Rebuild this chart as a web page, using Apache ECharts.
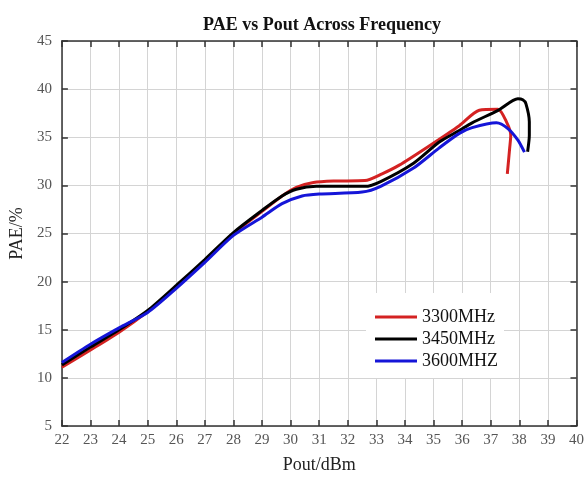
<!DOCTYPE html>
<html>
<head>
<meta charset="utf-8">
<script src="https://cdn.jsdelivr.net/npm/echarts@6/dist/echarts.min.js"></script>
<style>html,body{margin:0;padding:0;background:#fff}#c{width:587px;height:479px}</style>
</head>
<body>
<div id="c"></div>
<script>
var seriesNames = ['3300MHz', '3450MHz', '3600MHZ'];
var xTicks = [22,23,24,25,26,27,28,29,30,31,32,33,34,35,36,37,38,39,40];
var yTicks = [5,10,15,20,25,30,35,40,45];

var red3300 = [[22,11.1],[23,12.9],[24,14.75],[25,16.9],[26,19.4],[27,22.2],[28,25.0],[29,27.3],[29.7,28.9],[30.2,29.8],[30.8,30.3],[31.5,30.45],[32.6,30.5],[33.2,31.2],[33.8,32.1],[34.9,34.2],[35.9,36.2],[36.6,37.8],[37.25,37.9],[37.55,36.6],[37.7,35.2],[37.66,33.8],[37.58,31.2]];
var black3450 = [[22,11.35],[23,13.2],[24,15.0],[25,17.0],[26,19.6],[27,22.3],[28,25.1],[29,27.4],[29.7,28.9],[30.2,29.6],[30.9,29.9],[32.6,29.9],[33.15,30.4],[34.3,32.3],[35.2,34.5],[35.9,35.7],[36.35,36.5],[37.26,37.8],[37.95,39.0],[38.12,38.9],[38.23,38.5],[38.35,36.6],[38.35,35.2],[38.29,33.5]];
var blue3600 = [[22,11.6],[23,13.5],[24,15.2],[25,16.8],[26,19.3],[27,22.0],[28,24.8],[29,26.7],[29.7,28.1],[30.4,28.9],[31,29.1],[32.5,29.3],[33.15,29.9],[34.3,31.8],[35.2,33.9],[35.9,35.4],[36.35,36.0],[37.2,36.5],[37.6,35.9],[37.95,34.7],[38.18,33.45]];

var colors = ['#d42222', '#000000', '#1515d8'];
var serif = '"Liberation Serif", "Times New Roman", serif';

var chart = echarts.init(document.getElementById('c'), null, {renderer: 'canvas'});
var xMin = xTicks[0], xMax = xTicks[xTicks.length-1];
var yMin = yTicks[0], yMax = yTicks[yTicks.length-1];

function mkSeries(name, data, color) {
  return {
    name: name, type: 'line', data: data, xAxisIndex: 0, yAxisIndex: 0,
    showSymbol: false, symbol: 'none', smooth: 0.25,
    lineStyle: {color: color, width: 3}, itemStyle: {color: color}
  };
}

chart.setOption({
  animation: false,
  backgroundColor: '#ffffff',
  title: {
    text: 'PAE vs Pout Across Frequency',
    left: 317, top: 11, textAlign: 'center',
    textStyle: {fontFamily: serif, fontWeight: 'bold', fontSize: 18, color: '#111'}
  },
  grid: {left: 54, right: 7, top: 41, bottom: 48, containLabel: false},
  legend: {
    data: seriesNames.map(function(n){ return {name: n, icon: 'rect'}; }),
    orient: 'vertical', left: 366, top: 293,
    padding: [14, 6, 7, 9],
    backgroundColor: '#ffffff',
    itemWidth: 42, itemHeight: 3, itemGap: 2,
    textStyle: {fontFamily: serif, fontSize: 18, color: '#111', lineHeight: 20}
  },
  xAxis: [{
    type: 'value', min: xMin, max: xMax, interval: 1, position: 'bottom',
    name: 'Pout/dBm', nameLocation: 'middle', nameGap: 30,
    nameTextStyle: {fontFamily: serif, fontSize: 18, color: '#222'},
    axisLine: {show: true, onZero: false, lineStyle: {color: '#333', width: 1.5}},
    axisTick: {show: true, inside: true, length: 6, lineStyle: {color: '#333', width: 1.5}},
    axisLabel: {fontFamily: serif, fontSize: 15, color: '#555', margin: 7},
    splitLine: {show: true, lineStyle: {color: '#d4d4d4', width: 1}}
  }, {
    type: 'value', min: xMin, max: xMax, interval: 1, position: 'top',
    axisLine: {show: true, onZero: false, lineStyle: {color: '#333', width: 1.5}},
    axisTick: {show: true, inside: true, length: 6, lineStyle: {color: '#333', width: 1.5}},
    axisLabel: {show: false}, splitLine: {show: false}
  }],
  yAxis: [{
    type: 'value', min: yMin, max: yMax, interval: 5, position: 'left',
    name: 'PAE/%', nameLocation: 'middle', nameGap: 25, nameRotate: 90,
    nameTextStyle: {fontFamily: serif, fontSize: 18, color: '#222'},
    axisLine: {show: true, onZero: false, lineStyle: {color: '#333', width: 1.5}},
    axisTick: {show: true, inside: true, length: 6, lineStyle: {color: '#333', width: 1.5}},
    axisLabel: {fontFamily: serif, fontSize: 15, color: '#555', margin: 10},
    splitLine: {show: true, lineStyle: {color: '#d4d4d4', width: 1}}
  }, {
    type: 'value', min: yMin, max: yMax, interval: 5, position: 'right',
    axisLine: {show: true, onZero: false, lineStyle: {color: '#333', width: 1.5}},
    axisTick: {show: true, inside: true, length: 6, lineStyle: {color: '#333', width: 1.5}},
    axisLabel: {show: false}, splitLine: {show: false}
  }],
  series: [
    mkSeries(seriesNames[0], red3300, colors[0]),
    mkSeries(seriesNames[1], black3450, colors[1]),
    mkSeries(seriesNames[2], blue3600, colors[2])
  ]
});
</script>
</body>
</html>
